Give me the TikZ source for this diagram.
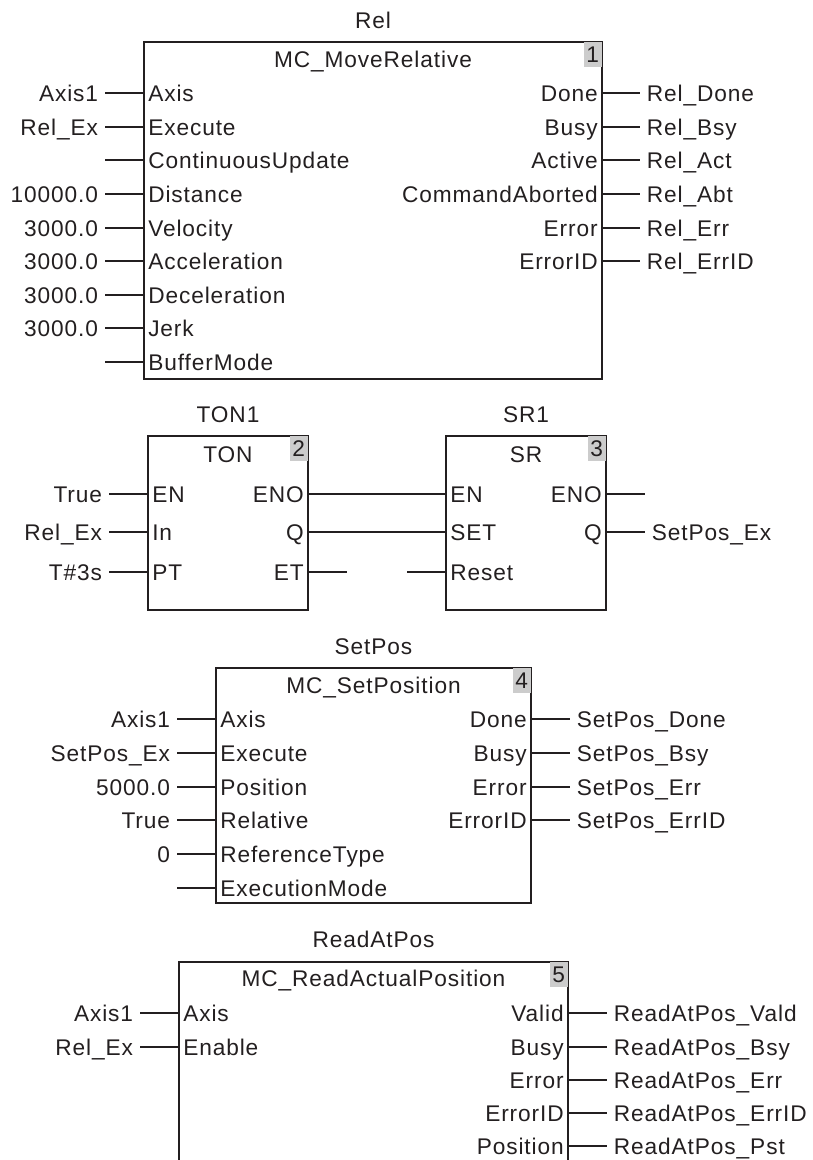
\documentclass[tikz,border=0pt]{standalone}
\usepackage{fontspec}
\setmainfont[LetterSpace=4]{Liberation Sans}
\usetikzlibrary{positioning,fit}
\definecolor{ink}{HTML}{231F20}
\begin{document}
\begin{tikzpicture}[x=0.75pt, y=-0.75pt,
  every node/.style={font=\fontsize{17}{19}\selectfont, text=ink, text height=12.2pt, text depth=0pt},
  fbbox/.style={draw=ink, line width=1.1pt, inner sep=0pt},
  numbox/.style={fill=gray!40, anchor=north east, minimum width=13.5pt, minimum height=18.75pt, inner sep=0pt},
  pinl/.style={anchor=west, inner sep=3pt},
  pinr/.style={anchor=east, inner sep=3pt},
  argl/.style={anchor=east, inner sep=5pt},
  argr/.style={anchor=west, inner sep=5pt},
  wire/.style={draw=ink, line width=0.9pt}]
  \useasboundingbox (0,0) rectangle (813,1160);
  \clip (0,0) rectangle (813,1160);

  % MC_MoveRelative
  \coordinate (rel-nw) at (144,42);
  \coordinate (rel-se) at (602,379);
  \node[fbbox, fit=(rel-nw)(rel-se)] (rel) {};
  \node (rel-title) at ([yshift=15.75pt]rel.north) {Rel};
  \node (rel-type) at ([yshift=-13.5pt]rel.north) {MC\_MoveRelative};
  \node[numbox] (rel-no) at ([xshift=-0.55pt,yshift=-0.55pt]rel.north east) {1};
  \foreach \y/\pin/\arg [count=\i] in {93/Axis/Axis1, 127/Execute/Rel\_Ex, 160/ContinuousUpdate/{}, 194/Distance/10000.0, 228/Velocity/3000.0, 261/Acceleration/3000.0, 295/Deceleration/3000.0, 328/Jerk/3000.0, 362/BufferMode/{}} {
    \node[pinl] (rel-in\i) at (144,\y) {\pin};
    \node[argl] (rel-arg\i) at (105,\y) {\arg};
    \draw[wire] (rel-arg\i.east) -- (rel-in\i.west);
  }
  \foreach \y/\pin/\arg [count=\i] in {93/Done/Rel\_Done, 127/Busy/Rel\_Bsy, 160/Active/Rel\_Act, 194/CommandAborted/Rel\_Abt, 228/Error/Rel\_Err, 261/ErrorID/Rel\_ErrID} {
    \node[pinr] (rel-out\i) at (602,\y) {\pin};
    \node[argr] (rel-res\i) at (640,\y) {\arg};
    \draw[wire] (rel-out\i.east) -- (rel-res\i.west);
  }

  % TON timer
  \coordinate (ton-nw) at (148,436);
  \coordinate (ton-se) at (308,610);
  \node[fbbox, fit=(ton-nw)(ton-se)] (ton) {};
  \node (ton-title) at ([yshift=15.75pt]ton.north) {TON1};
  \node (ton-type) at ([yshift=-14.25pt]ton.north) {TON};
  \node[numbox] (ton-no) at ([xshift=-0.55pt,yshift=-0.55pt]ton.north east) {2};
  \foreach \y/\pin/\arg [count=\i] in {494/EN/True, 532/In/Rel\_Ex, 572/PT/T\#3s} {
    \node[pinl] (ton-in\i) at (148,\y) {\pin};
    \node[argl] (ton-arg\i) at (109,\y) {\arg};
    \draw[wire] (ton-arg\i.east) -- (ton-in\i.west);
  }
  \foreach \y/\pin [count=\i] in {494/ENO, 532/Q, 572/ET}
    \node[pinr] (ton-out\i) at (308,\y) {\pin};
  \coordinate (ton-et) at (347,572);
  \draw[wire] (ton-out3.east) -- (ton-et);

  % SR flip-flop
  \coordinate (sr-nw) at (446,436);
  \coordinate (sr-se) at (606,610);
  \node[fbbox, fit=(sr-nw)(sr-se)] (sr) {};
  \node (sr-title) at ([yshift=15.75pt]sr.north) {SR1};
  \node (sr-type) at ([yshift=-14.25pt]sr.north) {SR};
  \node[numbox] (sr-no) at ([xshift=-0.55pt,yshift=-0.55pt]sr.north east) {3};
  \foreach \y/\pin [count=\i] in {494/EN, 532/SET, 572/Reset}
    \node[pinl] (sr-in\i) at (446,\y) {\pin};
  \foreach \y/\pin [count=\i] in {494/ENO, 532/Q}
    \node[pinr] (sr-out\i) at (606,\y) {\pin};
  \draw[wire] (ton-out1.east) -- (sr-in1.west);
  \draw[wire] (ton-out2.east) -- (sr-in2.west);
  \coordinate (sr-rst) at (407,572);
  \draw[wire] (sr-rst) -- (sr-in3.west);
  \coordinate (sr-eno) at (645,494);
  \draw[wire] (sr-out1.east) -- (sr-eno);
  \node[argr] (sr-res) at (645,532) {SetPos\_Ex};
  \draw[wire] (sr-out2.east) -- (sr-res.west);

  % MC_SetPosition
  \coordinate (set-nw) at (216,668);
  \coordinate (set-se) at (531,903);
  \node[fbbox, fit=(set-nw)(set-se)] (set) {};
  \node (set-title) at ([yshift=15.75pt]set.north) {SetPos};
  \node (set-type) at ([yshift=-13.5pt]set.north) {MC\_SetPosition};
  \node[numbox] (set-no) at ([xshift=-0.55pt,yshift=-0.55pt]set.north east) {4};
  \foreach \y/\pin/\arg [count=\i] in {719/Axis/Axis1, 753/Execute/SetPos\_Ex, 787/Position/5000.0, 820/Relative/True, 854/ReferenceType/0, 888/ExecutionMode/{}} {
    \node[pinl] (set-in\i) at (216,\y) {\pin};
    \node[argl] (set-arg\i) at (177,\y) {\arg};
    \draw[wire] (set-arg\i.east) -- (set-in\i.west);
  }
  \foreach \y/\pin/\arg [count=\i] in {719/Done/SetPos\_Done, 753/Busy/SetPos\_Bsy, 787/Error/SetPos\_Err, 820/ErrorID/SetPos\_ErrID} {
    \node[pinr] (set-out\i) at (531,\y) {\pin};
    \node[argr] (set-res\i) at (570,\y) {\arg};
    \draw[wire] (set-out\i.east) -- (set-res\i.west);
  }

  % MC_ReadActualPosition
  \coordinate (rd-nw) at (179,962);
  \coordinate (rd-se) at (568,1175);
  \node[fbbox, fit=(rd-nw)(rd-se)] (rd) {};
  \node (rd-title) at ([yshift=16.5pt]rd.north) {ReadAtPos};
  \node (rd-type) at ([yshift=-12.75pt]rd.north) {MC\_ReadActualPosition};
  \node[numbox] (rd-no) at ([xshift=-0.55pt,yshift=-0.55pt]rd.north east) {5};
  \foreach \y/\pin/\arg [count=\i] in {1013/Axis/Axis1, 1047/Enable/Rel\_Ex} {
    \node[pinl] (rd-in\i) at (179,\y) {\pin};
    \node[argl] (rd-arg\i) at (140,\y) {\arg};
    \draw[wire] (rd-arg\i.east) -- (rd-in\i.west);
  }
  \foreach \y/\pin/\arg [count=\i] in {1013/Valid/ReadAtPos\_Vald, 1047/Busy/ReadAtPos\_Bsy, 1080/Error/ReadAtPos\_Err, 1113/ErrorID/ReadAtPos\_ErrID, 1146/Position/ReadAtPos\_Pst} {
    \node[pinr] (rd-out\i) at (568,\y) {\pin};
    \node[argr] (rd-res\i) at (607,\y) {\arg};
    \draw[wire] (rd-out\i.east) -- (rd-res\i.west);
  }
\end{tikzpicture}
\end{document}
